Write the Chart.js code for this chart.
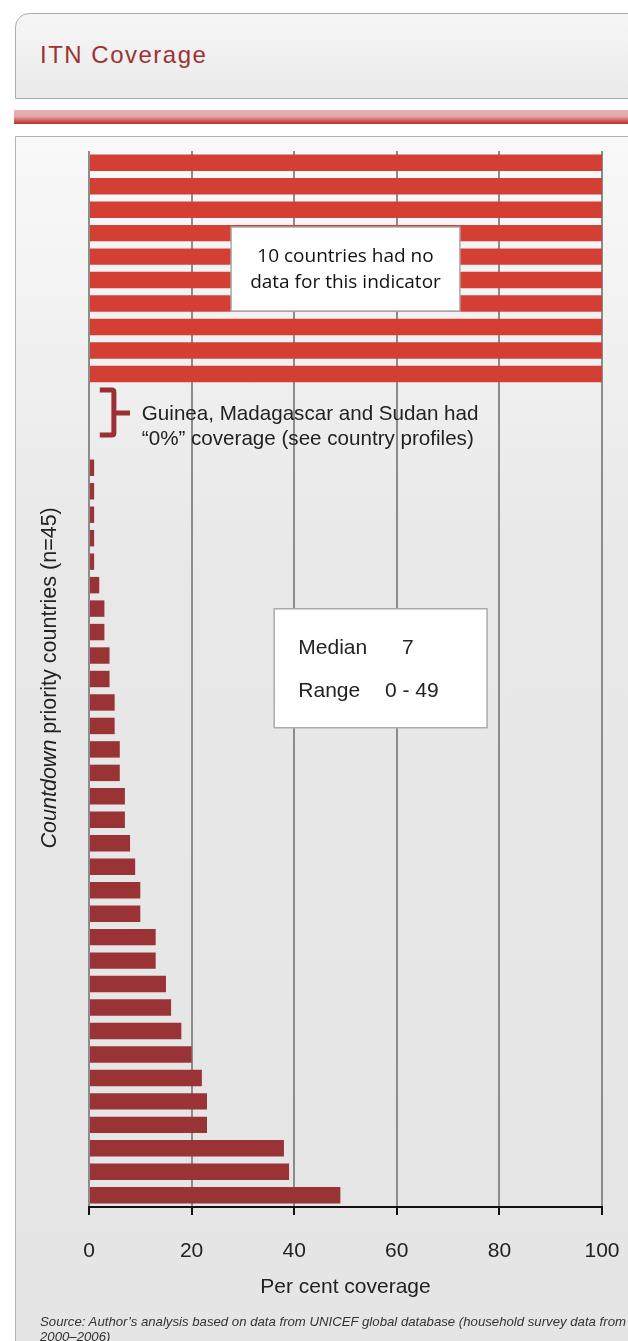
<!DOCTYPE html>
<html>
<head>
<meta charset="utf-8">
<script src="https://cdn.jsdelivr.net/npm/chart.js@4.4.1/dist/chart.umd.min.js"></script>
<style>
    body { margin: 0; width: 628px; height: 1341px; overflow: hidden; background: #fff; font-family: "Liberation Sans", Arial, sans-serif; position: relative; }
    #header { position: absolute; left: 15px; top: 13px; width: 640px; height: 84px; border: 1px solid #acacac; border-top-left-radius: 14px; background: linear-gradient(#f6f6f6, #eaeaea); }
    #header h1 { margin: 0; position: absolute; left: 24px; top: 27px; font-weight: normal; font-size: 24px; letter-spacing: 1.5px; color: #9c3236; }
    #strip { position: absolute; left: 14px; top: 110px; width: 640px; height: 14px; background: linear-gradient(#e6b2b2 0%, #e3a9a9 45%, #c84848 85%, #b93434 100%); }
    #panel { position: absolute; left: 15px; top: 136px; width: 640px; height: 1220px; border: 1px solid #b4b4b4; border-bottom-left-radius: 14px; background: linear-gradient(#f9f9f9 0px, #e8e8e8 420px, #e5e5e5 1220px); }
    #chartWrap { position: absolute; left: 0; top: 0; width: 628px; height: 1341px; }
    #source { position: absolute; left: 40px; top: 1314px; font-style: italic; font-size: 13.2px; line-height: 15px; color: #333; white-space: nowrap; }
</style>
</head>
<body>
<div id="header"><h1>ITN Coverage</h1></div>
<div id="strip"></div>
<div id="panel"></div>
<div id="chartWrap"><canvas id="myChart" width="628" height="1341"></canvas></div>
<div id="source">Source: Author’s analysis based on data from UNICEF global database (household survey data from<br>2000–2006)</div>
<script>
// 10 countries with no data, drawn as full-width bars
var noDataBars = [100, 100, 100, 100, 100, 100, 100, 100, 100, 100];
// countries reported at 0%
var zeroCountries = ['Guinea', 'Madagascar', 'Sudan'];
// remaining countries, per cent coverage (sorted)
var coverage = [1, 1, 1, 1, 1, 2, 3, 3, 4, 4, 5, 5, 6, 6, 7, 7, 8, 9, 10, 10, 13, 13, 15, 16, 18, 20, 22, 23, 23, 38, 39, 49];
var xTicks = [0, 20, 40, 60, 80, 100];

var noDataColor = '#d43f34';
var barColor = '#993336';

var labels = [];
var values = [];
var colors = [];
noDataBars.forEach(function (v, i) {
    labels.push('No data ' + (i + 1));
    values.push(v);
    colors.push(noDataColor);
});
zeroCountries.forEach(function (c) {
    labels.push(c);
    values.push(0);
    colors.push(barColor);
});
coverage.forEach(function (v, i) {
    labels.push('Country ' + (i + 1));
    values.push(v);
    colors.push(barColor);
});

// boxes, bracket and the y title, placed with the chart's own scales
var notesPlugin = {
    id: 'notes',
    afterDatasetsDraw: function (chart) {
        var ctx = chart.ctx;
        var xs = chart.scales.x;
        var ys = chart.scales.y;
        function X(v) { return xs.getPixelForValue(v); }
        function Y(v) { return ys.getPixelForValue(v); }

        ctx.save();

        // no data box
        ctx.fillStyle = '#fff';
        ctx.strokeStyle = '#ababab';
        ctx.lineWidth = 1.5;
        ctx.fillRect(X(27.7), Y(2.74), X(72.3) - X(27.7), Y(6.32) - Y(2.74));
        ctx.strokeRect(X(27.7), Y(2.74), X(72.3) - X(27.7), Y(6.32) - Y(2.74));
        ctx.fillStyle = '#111';
        ctx.font = '19px "Open Sans"';
        ctx.textAlign = 'center';
        ctx.textBaseline = 'middle';
        ctx.fillText('10 countries had no', X(50), Y(4.02));
        ctx.fillText('data for this indicator', X(50), Y(5.12));

        // bracket for the 0% countries
        var bx = X(2.1), bv = X(4.85), bn = X(8), by1 = Y(9.68), by2 = Y(11.6), bm = Y(10.66);
        ctx.strokeStyle = '#9b3034';
        ctx.lineWidth = 5;
        ctx.lineJoin = 'round';
        ctx.beginPath();
        ctx.moveTo(bx, by1);
        ctx.lineTo(bv - 2, by1);
        ctx.quadraticCurveTo(bv, by1, bv, by1 + 2);
        ctx.lineTo(bv, by2 - 2);
        ctx.quadraticCurveTo(bv, by2, bv - 2, by2);
        ctx.lineTo(bx, by2);
        ctx.moveTo(bv, bm);
        ctx.lineTo(bn, bm);
        ctx.stroke();

        ctx.fillStyle = '#222';
        ctx.font = '20.6px "Liberation Sans"';
        ctx.textAlign = 'left';
        ctx.fillText('Guinea, Madagascar and Sudan had', X(10.3), Y(10.7));
        ctx.fillText('“0%” coverage (see country profiles)', X(10.3), Y(11.77));

        // median / range box
        ctx.fillStyle = '#fff';
        ctx.strokeStyle = '#ababab';
        ctx.lineWidth = 1.5;
        ctx.fillRect(X(36.1), Y(19.01), X(77.6) - X(36.1), Y(24.08) - Y(19.01));
        ctx.strokeRect(X(36.1), Y(19.01), X(77.6) - X(36.1), Y(24.08) - Y(19.01));
        ctx.fillStyle = '#222';
        ctx.font = '21px "Liberation Sans"';
        ctx.fillText('Median', X(40.8), Y(20.68));
        ctx.fillText('7', X(61), Y(20.68));
        ctx.fillText('Range', X(40.8), Y(22.5));
        ctx.fillText('0 - 49', X(57.7), Y(22.5));

        // y axis title, "Countdown" in italics
        ctx.translate(50, Y(21.95));
        ctx.rotate(-Math.PI / 2);
        var fs = '21.5px "Liberation Sans"';
        ctx.font = 'italic ' + fs;
        var part1 = 'Countdown';
        var w1 = ctx.measureText(part1).width;
        ctx.font = fs;
        var part2 = ' priority countries (n=45)';
        var w2 = ctx.measureText(part2).width;
        var start = -(w1 + w2) / 2;
        ctx.font = 'italic ' + fs;
        ctx.fillText(part1, start, 0);
        ctx.font = fs;
        ctx.fillText(part2, start + w1, 0);

        ctx.restore();
    }
};

var ctx = document.getElementById('myChart');
var myChart = new Chart(ctx, {
    type: 'bar',
    data: {
        labels: labels,
        datasets: [{
            label: 'Per cent coverage',
            data: values,
            backgroundColor: colors,
            borderWidth: 0,
            barPercentage: 0.7,
            categoryPercentage: 1
        }]
    },
    options: {
        indexAxis: 'y',
        responsive: false,
        animation: false,
        devicePixelRatio: 1,
        layout: {
            padding: { left: 20, top: 151, right: 26, bottom: 14 }
        },
        plugins: {
            legend: { display: false },
            tooltip: { enabled: false }
        },
        scales: {
            y: {
                ticks: { display: false },
                grid: { display: false },
                border: { display: false },
                afterFit: function (scale) { scale.width = 69; }
            },
            x: {
                min: 0,
                max: 100,
                afterBuildTicks: function (scale) {
                    scale.ticks = xTicks.map(function (v) { return { value: v }; });
                },
                ticks: {
                    color: '#222',
                    font: { family: 'Liberation Sans', size: 21 },
                    padding: 24,
                    maxRotation: 0
                },
                grid: {
                    color: '#8c8c8c',
                    lineWidth: 2,
                    tickColor: '#111',
                    tickLength: 8,
                    tickWidth: 2
                },
                border: { color: '#111', width: 2 },
                title: {
                    display: true,
                    text: 'Per cent coverage',
                    color: '#222',
                    font: { family: 'Liberation Sans', size: 21 },
                    padding: { top: 0, bottom: 27 }
                },
                afterFit: function (scale) {
                    scale.height = 120;
                    scale.paddingLeft = 0;
                    scale.paddingRight = 0;
                }
            }
        }
    },
    plugins: [notesPlugin]
});
</script>
</body>
</html>
